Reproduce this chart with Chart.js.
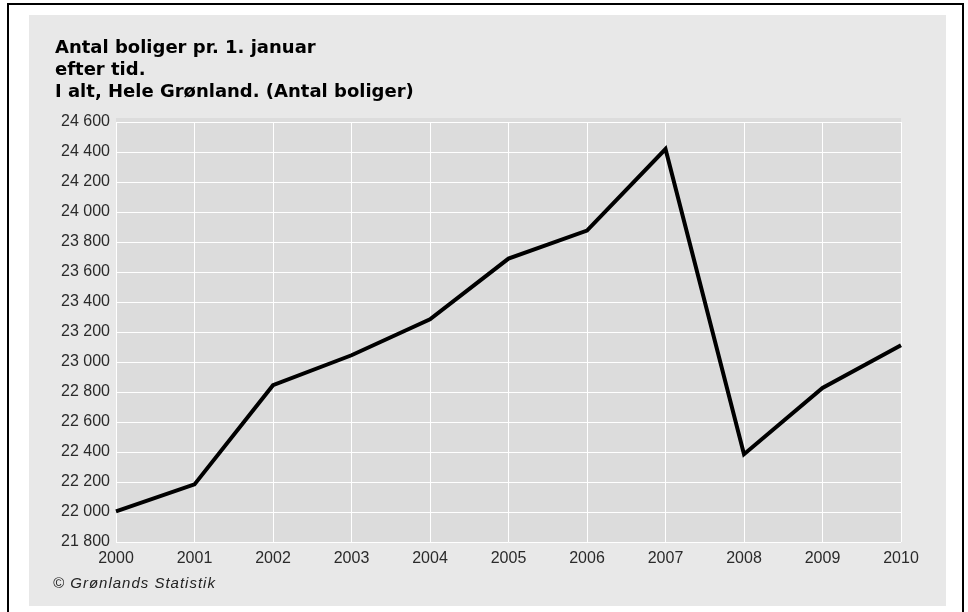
<!DOCTYPE html>
<html>
<head>
<meta charset="utf-8">
<script src="https://cdn.jsdelivr.net/npm/chart.js@4/dist/chart.umd.min.js"></script>
<style>
  html, body { margin: 0; padding: 0; background: #ffffff; }
  #wrap { width: 968px; height: 612px; }
</style>
</head>
<body>
<div id="wrap"><canvas id="c" width="968" height="612"></canvas></div>
<script>
// ---- data ----
const years = ['2000','2001','2002','2003','2004','2005','2006','2007','2008','2009','2010'];
const dwellings = [22004, 22184, 22845, 23045, 23284, 23689, 23876, 24420, 22385, 22827, 23111];
const titleLines = ['Antal boliger pr. 1. januar', 'efter tid.', 'I alt, Hele Grønland. (Antal boliger)'];
const sourceNote = '© Grønlands Statistik';
const yMin = 21800, yMax = 24600, yStep = 200;

function fmt(v) { return String(v).replace(/\B(?=(\d{3})+(?!\d))/g, ' '); }

const decor = {
  id: 'decor',
  beforeDraw(chart) {
    const ctx = chart.ctx, a = chart.chartArea;
    ctx.save();
    ctx.fillStyle = '#ffffff';
    ctx.fillRect(0, 0, chart.width, chart.height);
    ctx.fillStyle = '#e8e8e8';
    ctx.fillRect(29, 15, 917, 591);
    ctx.strokeStyle = '#000000';
    ctx.lineWidth = 2;
    ctx.strokeRect(8, 4, 955, 620);
    ctx.fillStyle = '#dcdcdc';
    ctx.fillRect(a.left, a.top - 4, a.right - a.left, a.bottom - a.top + 4);
    ctx.restore();
  },
  afterDraw(chart) {
    const ctx = chart.ctx;
    ctx.save();
    ctx.fillStyle = '#000000';
    ctx.textBaseline = 'alphabetic';
    ctx.textAlign = 'left';
    ctx.font = 'bold 18px "DejaVu Sans"';
    const base = [53, 75, 97];
    titleLines.forEach((t, i) => ctx.fillText(t, 55, base[i]));
    ctx.font = 'italic 15px "Liberation Sans"';
    if ('letterSpacing' in ctx) ctx.letterSpacing = '1px';
    ctx.fillStyle = '#222222';
    ctx.fillText(sourceNote, 53, 588);
    ctx.restore();
  }
};

new Chart(document.getElementById('c'), {
  type: 'line',
  data: {
    labels: years,
    datasets: [{
      data: dwellings,
      borderColor: '#000000',
      borderWidth: 4,
      pointRadius: 0,
      tension: 0,
      fill: false,
      borderJoinStyle: 'miter'
    }]
  },
  options: {
    responsive: false,
    animation: false,
    devicePixelRatio: 1,
    layout: { padding: { left: 30, right: 67, top: 122, bottom: 0 } },
    plugins: { legend: { display: false }, tooltip: { enabled: false }, title: { display: false } },
    scales: {
      x: {
        offset: false,
        grid: { color: '#ffffff', lineWidth: 1, drawTicks: false },
        border: { display: false },
        ticks: { color: '#2a2a2a', font: { family: 'Liberation Sans', size: 16 }, padding: 7, maxRotation: 0, autoSkip: false },
        afterFit(s) { s.height = 70; }
      },
      y: {
        min: yMin, max: yMax,
        grid: { color: '#ffffff', lineWidth: 1, drawTicks: false },
        border: { display: false },
        ticks: { stepSize: yStep, color: '#2a2a2a', font: { family: 'Liberation Sans', size: 16 }, padding: 6, callback: v => fmt(v) },
        afterFit(s) { s.width = 86; }
      }
    }
  },
  plugins: [decor]
});
</script>
</body>
</html>
